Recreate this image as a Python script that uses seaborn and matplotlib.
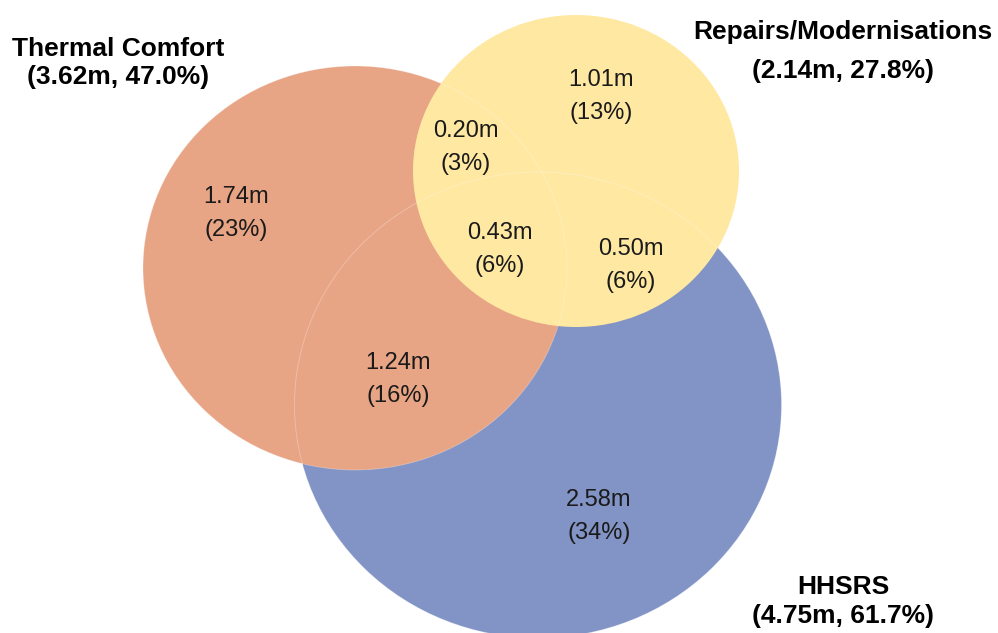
import matplotlib
matplotlib.use('Agg')
import matplotlib.pyplot as plt
from matplotlib.patches import Ellipse
import seaborn as sns

sns.set_theme(style='white')
plt.rcParams['font.family'] = ['Liberation Sans', 'DejaVu Sans']

# data
set_names = ['Thermal Comfort', 'HHSRS', 'Repairs/Modernisations']
set_totals = [3.62, 4.75, 2.14]      # millions
set_pcts = [47.0, 61.7, 27.8]
set_colors = ['#E8A585', '#8294C5', '#FEE8A2']

# regions: TC only, HHSRS only, RM only, TC&H, TC&RM, H&RM, all three
region_values = [1.74, 2.58, 1.01, 1.24, 0.20, 0.50, 0.43]
region_pcts = [23, 34, 13, 16, 3, 6, 6]

# layout (pixel space of the picture)
circle_xy = [(355, 268), (538, 405), (576, 171)]
circle_wh = [(424, 404), (487, 466), (326, 312)]
circle_z = [1.1, 1.0, 1.2]   # HHSRS at the bottom, Repairs on top
title_xy = [(118, 49, 77), (843, 587, 616), (843, 32, 71)]
region_xy = [(236, 197), (599, 500), (601, 80), (398, 363),
             (466, 131), (631, 249), (500, 233)]

fig = plt.figure(figsize=(9.98, 6.33), dpi=100)
ax = fig.add_axes([0, 0, 1, 1])

for i in range(3):
    ax.add_patch(Ellipse(circle_xy[i], *circle_wh[i], facecolor=set_colors[i],
                         edgecolor='none', zorder=circle_z[i]))

# faint region boundaries
for i in [0, 1]:
    ax.add_patch(Ellipse(circle_xy[i], *circle_wh[i], facecolor='none',
                         edgecolor='white', linewidth=0.6, alpha=0.3, zorder=2))

for (x, y), v, p in zip(region_xy, region_values, region_pcts):
    ax.text(x, y, f'{v:.2f}m', ha='center', va='center', fontsize=17,
            color='#1a1a1a', zorder=3)
    ax.text(x, y + 33, f'({p}%)', ha='center', va='center', fontsize=17,
            color='#1a1a1a', zorder=3)

for (x, y1, y2), name, tot, pct in zip(title_xy, set_names, set_totals, set_pcts):
    ax.text(x, y1, name, ha='center', va='center', fontsize=19,
            fontweight='bold', color='black', zorder=3)
    ax.text(x, y2, f'({tot:.2f}m, {pct:.1f}%)', ha='center', va='center',
            fontsize=19, fontweight='bold', color='black', zorder=3)

ax.set_xlim(0, 998)
ax.set_ylim(633, 0)
ax.axis('off')

fig.savefig('out.png', dpi=100)
